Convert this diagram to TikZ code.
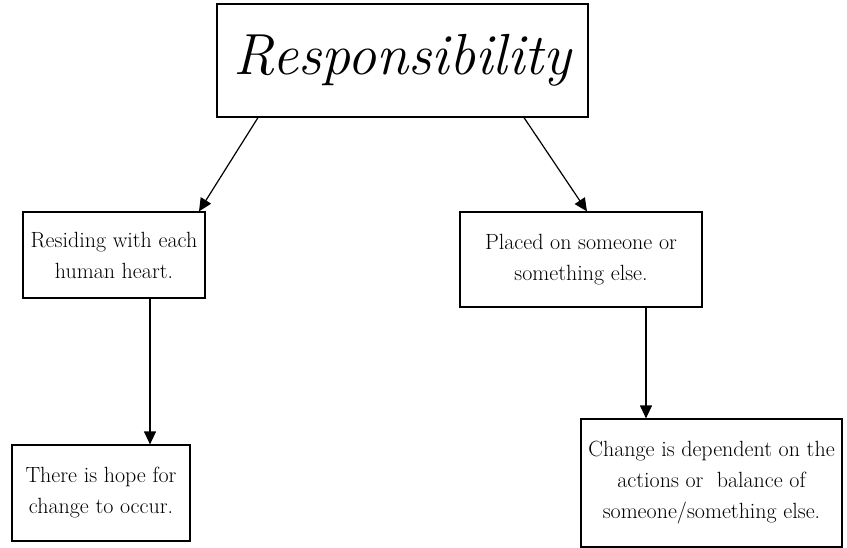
\documentclass[tikz,border=0pt]{standalone}
\usetikzlibrary{arrows.meta}
\begin{document}
\begin{tikzpicture}[x=1pt,y=-1pt,
  box/.style={draw, line width=1.2pt, inner sep=0pt, align=center, font=\fontsize{22}{31}\selectfont},
  arr/.style={-{Triangle[length=13pt,width=12pt]}, line width=1.2pt}]
\useasboundingbox (0,0) rectangle (847,548);
\node[box, minimum width=371pt, minimum height=113pt, font=\fontsize{58}{66}\selectfont\itshape] (T) at (402.5,60.5) {Responsibility};
\node[box, minimum width=182pt, minimum height=86pt] (L) at (114,255) {Residing with each\\human heart.};
\node[box, minimum width=242pt, minimum height=95pt] (R) at (581,259.5) {Placed on someone or\\something else.};
\node[box, minimum width=178pt, minimum height=96pt] (BL) at (101,493) {There is hope for\\change to occur.};
\node[box, minimum width=261pt, minimum height=128pt] (BR) at (711.5,483) {Change is dependent on the\\actions or\ \ balance of\\someone/something else.};
\coordinate (xa) at (258,0);
\coordinate (xb) at (199,0);
\coordinate (xc) at (524,0);
\coordinate (xd) at (587,0);
\coordinate (xe) at (150,0);
\coordinate (xf) at (646,0);
\draw[arr] (T.south -| xa) -- (L.north -| xb);
\draw[arr] (T.south -| xc) -- (R.north -| xd);
\draw[arr] (L.south -| xe) -- (BL.north -| xe);
\draw[arr] (R.south -| xf) -- (BR.north -| xf);
\end{tikzpicture}
\end{document}
